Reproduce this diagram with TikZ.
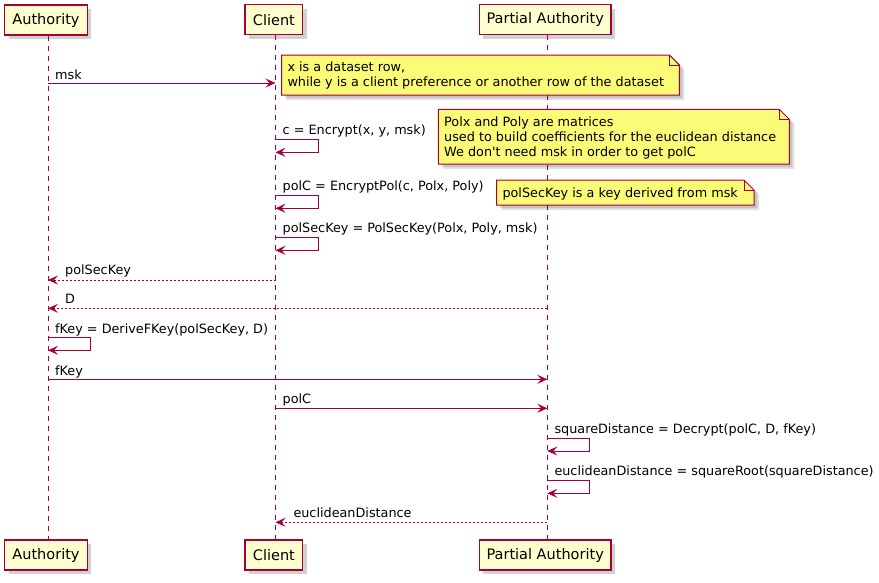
\documentclass[tikz,border=0pt]{standalone}
\usepackage{fontspec}
\setmainfont{DejaVu Sans}[Ligatures=TeXOff]
\usetikzlibrary{arrows.meta,shadows}
\definecolor{umlred}{HTML}{A80036}
\definecolor{partfill}{HTML}{FEFECE}
\definecolor{notefill}{HTML}{FBFB77}
\newcommand\umlnote[4]{%
  \fill[black,opacity=.12] (#1+3,#2+3) -- (#3+3-10,#2+3) -- (#3+3,#2+13) -- (#3+3,#4+3) -- (#1+3,#4+3) -- cycle;
  \fill[black,opacity=.12] (#1+5,#2+5) -- (#3+5-10,#2+5) -- (#3+5,#2+15) -- (#3+5,#4+5) -- (#1+5,#4+5) -- cycle;
  \draw[notebox] (#1,#2) -- (#3-10,#2) -- (#3,#2+10) -- (#3,#4) -- (#1,#4) -- cycle;
  \draw[notebox,fill=none] (#3-10,#2) -- (#3-10,#2+10) -- (#3,#2+10);
}
\begin{document}
\begin{tikzpicture}[x=1pt,y=-1pt,
  part/.style={draw=umlred, fill=partfill, line width=1.4pt, minimum height=30pt, inner sep=0pt,
    font=\fontsize{14.5}{16}\selectfont,
    drop shadow={shadow xshift=4pt,shadow yshift=-4pt,opacity=.18,fill=black}},
  lifeline/.style={draw=umlred, line width=1pt, dash pattern=on 5pt off 5pt},
  msg/.style={draw=umlred, line width=1pt, -{Stealth[length=10pt,width=9pt,inset=4pt]}},
  ret/.style={msg, dash pattern=on 2pt off 2pt},
  lbl/.style={inner sep=0pt, anchor=base west, font=\fontsize{12.8}{15}\selectfont},
  notebox/.style={draw=umlred, fill=notefill, line width=1pt, line join=miter}]
\useasboundingbox (0,0) rectangle (879,582);
\fill[white] (0,0) rectangle (879,582);

% participants
\node[part, minimum width=82.6pt] (A1) at (46,20) {Authority};
\node[part, minimum width=57.7pt] (C1) at (273.9,19.7) {Client};
\node[part, minimum width=131.7pt] (P1) at (545.2,19.7) {Partial Authority};
\node[part, minimum width=82.6pt] (A2) at (46,555) {Authority};
\node[part, minimum width=57.7pt] (C2) at (273.9,555) {Client};
\node[part, minimum width=131.7pt] (P2) at (545.2,555) {Partial Authority};

% lifelines
\draw[lifeline] ([xshift=2pt]A1.south) -- ([xshift=2pt]A2.north);
\draw[lifeline] ([xshift=1.6pt]C1.south) -- ([xshift=1.6pt]C2.north);
\draw[lifeline] ([xshift=2.1pt]P1.south) -- ([xshift=2.1pt]P2.north);

% lifeline points
\coordinate (a1) at (48,83);     \coordinate (c1) at (275.5,83);
\coordinate (s1) at (275.5,139.3); \coordinate (s1e) at (275.5,152.3);
\coordinate (s2) at (275.5,195.3); \coordinate (s2e) at (275.5,208.3);
\coordinate (s3) at (275.5,237.3); \coordinate (s3e) at (275.5,250.3);
\coordinate (c4) at (275.5,280);   \coordinate (a4) at (48,280);
\coordinate (p5) at (547.3,308.3); \coordinate (a5) at (48,308.3);
\coordinate (s6) at (48,337.7);    \coordinate (s6e) at (48,350.3);
\coordinate (a7) at (48,379.3);    \coordinate (p7) at (547.3,379.3);
\coordinate (c8) at (275.5,408.3); \coordinate (p8) at (547.3,408.3);
\coordinate (s9) at (547.3,438.3); \coordinate (s9e) at (547.3,451);
\coordinate (s10) at (547.3,480.7); \coordinate (s10e) at (547.3,493.3);
\coordinate (p11) at (547.3,522.3); \coordinate (c11) at (275.5,522.3);

% notes
\umlnote{281.7}{55}{679.3}{95}
\node[lbl] (n1a) at (287.3,71.5) {x is a dataset row,};
\node[lbl] (n1b) at (287.3,86.2) {while y is a client preference or another row of the dataset};
\umlnote{438.3}{109.3}{789.3}{164}
\node[lbl] (n2a) at (444,126.7) {Polx and Poly are matrices};
\node[lbl] (n2b) at (444,141.4) {used to build coefficients for the euclidean distance};
\node[lbl] (n2c) at (444,156.1) {We don't need msk in order to get polC};
\umlnote{496.7}{180}{754}{205}
\node[lbl] (n3a) at (502.3,197.7) {polSecKey is a key derived from msk};

% messages
\draw[msg] (a1) -- (c1);
\node[lbl] (t1) at (55,79.3) {msk};

\draw[msg] (s1) -- ++(43.2,0) |- (s1e);
\node[lbl] (t2) at (282.5,134.5) {c = Encrypt(x, y, msk)};

\draw[msg] (s2) -- ++(43.2,0) |- (s2e);
\node[lbl] (t3) at (282.5,190.5) {polC = EncryptPol(c, Polx, Poly)};

\draw[msg] (s3) -- ++(43.2,0) |- (s3e);
\node[lbl] (t4) at (282.5,232.5) {polSecKey = PolSecKey(Polx, Poly, msk)};

\draw[ret] (c4) -- (a4);
\node[lbl] (t5) at (65,274.8) {polSecKey};

\draw[ret] (p5) -- (a5);
\node[lbl] (t6) at (65,303.3) {D};

\draw[msg] (s6) -- ++(42,0) |- (s6e);
\node[lbl] (t7) at (55,333) {fKey = DeriveFKey(polSecKey, D)};

\draw[msg] (a7) -- (p7);
\node[lbl] (t8) at (55,375) {fKey};

\draw[msg] (c8) -- (p8);
\node[lbl] (t9) at (282.5,403.8) {polC};

\draw[msg] (s9) -- ++(42,0) |- (s9e);
\node[lbl] (t10) at (554.3,433) {squareDistance = Decrypt(polC, D, fKey)};

\draw[msg] (s10) -- ++(42,0) |- (s10e);
\node[lbl] (t11) at (554.3,475.3) {euclideanDistance = squareRoot(squareDistance)};

\draw[ret] (p11) -- (c11);
\node[lbl] (t12) at (293.3,517) {euclideanDistance};
\end{tikzpicture}
\end{document}
